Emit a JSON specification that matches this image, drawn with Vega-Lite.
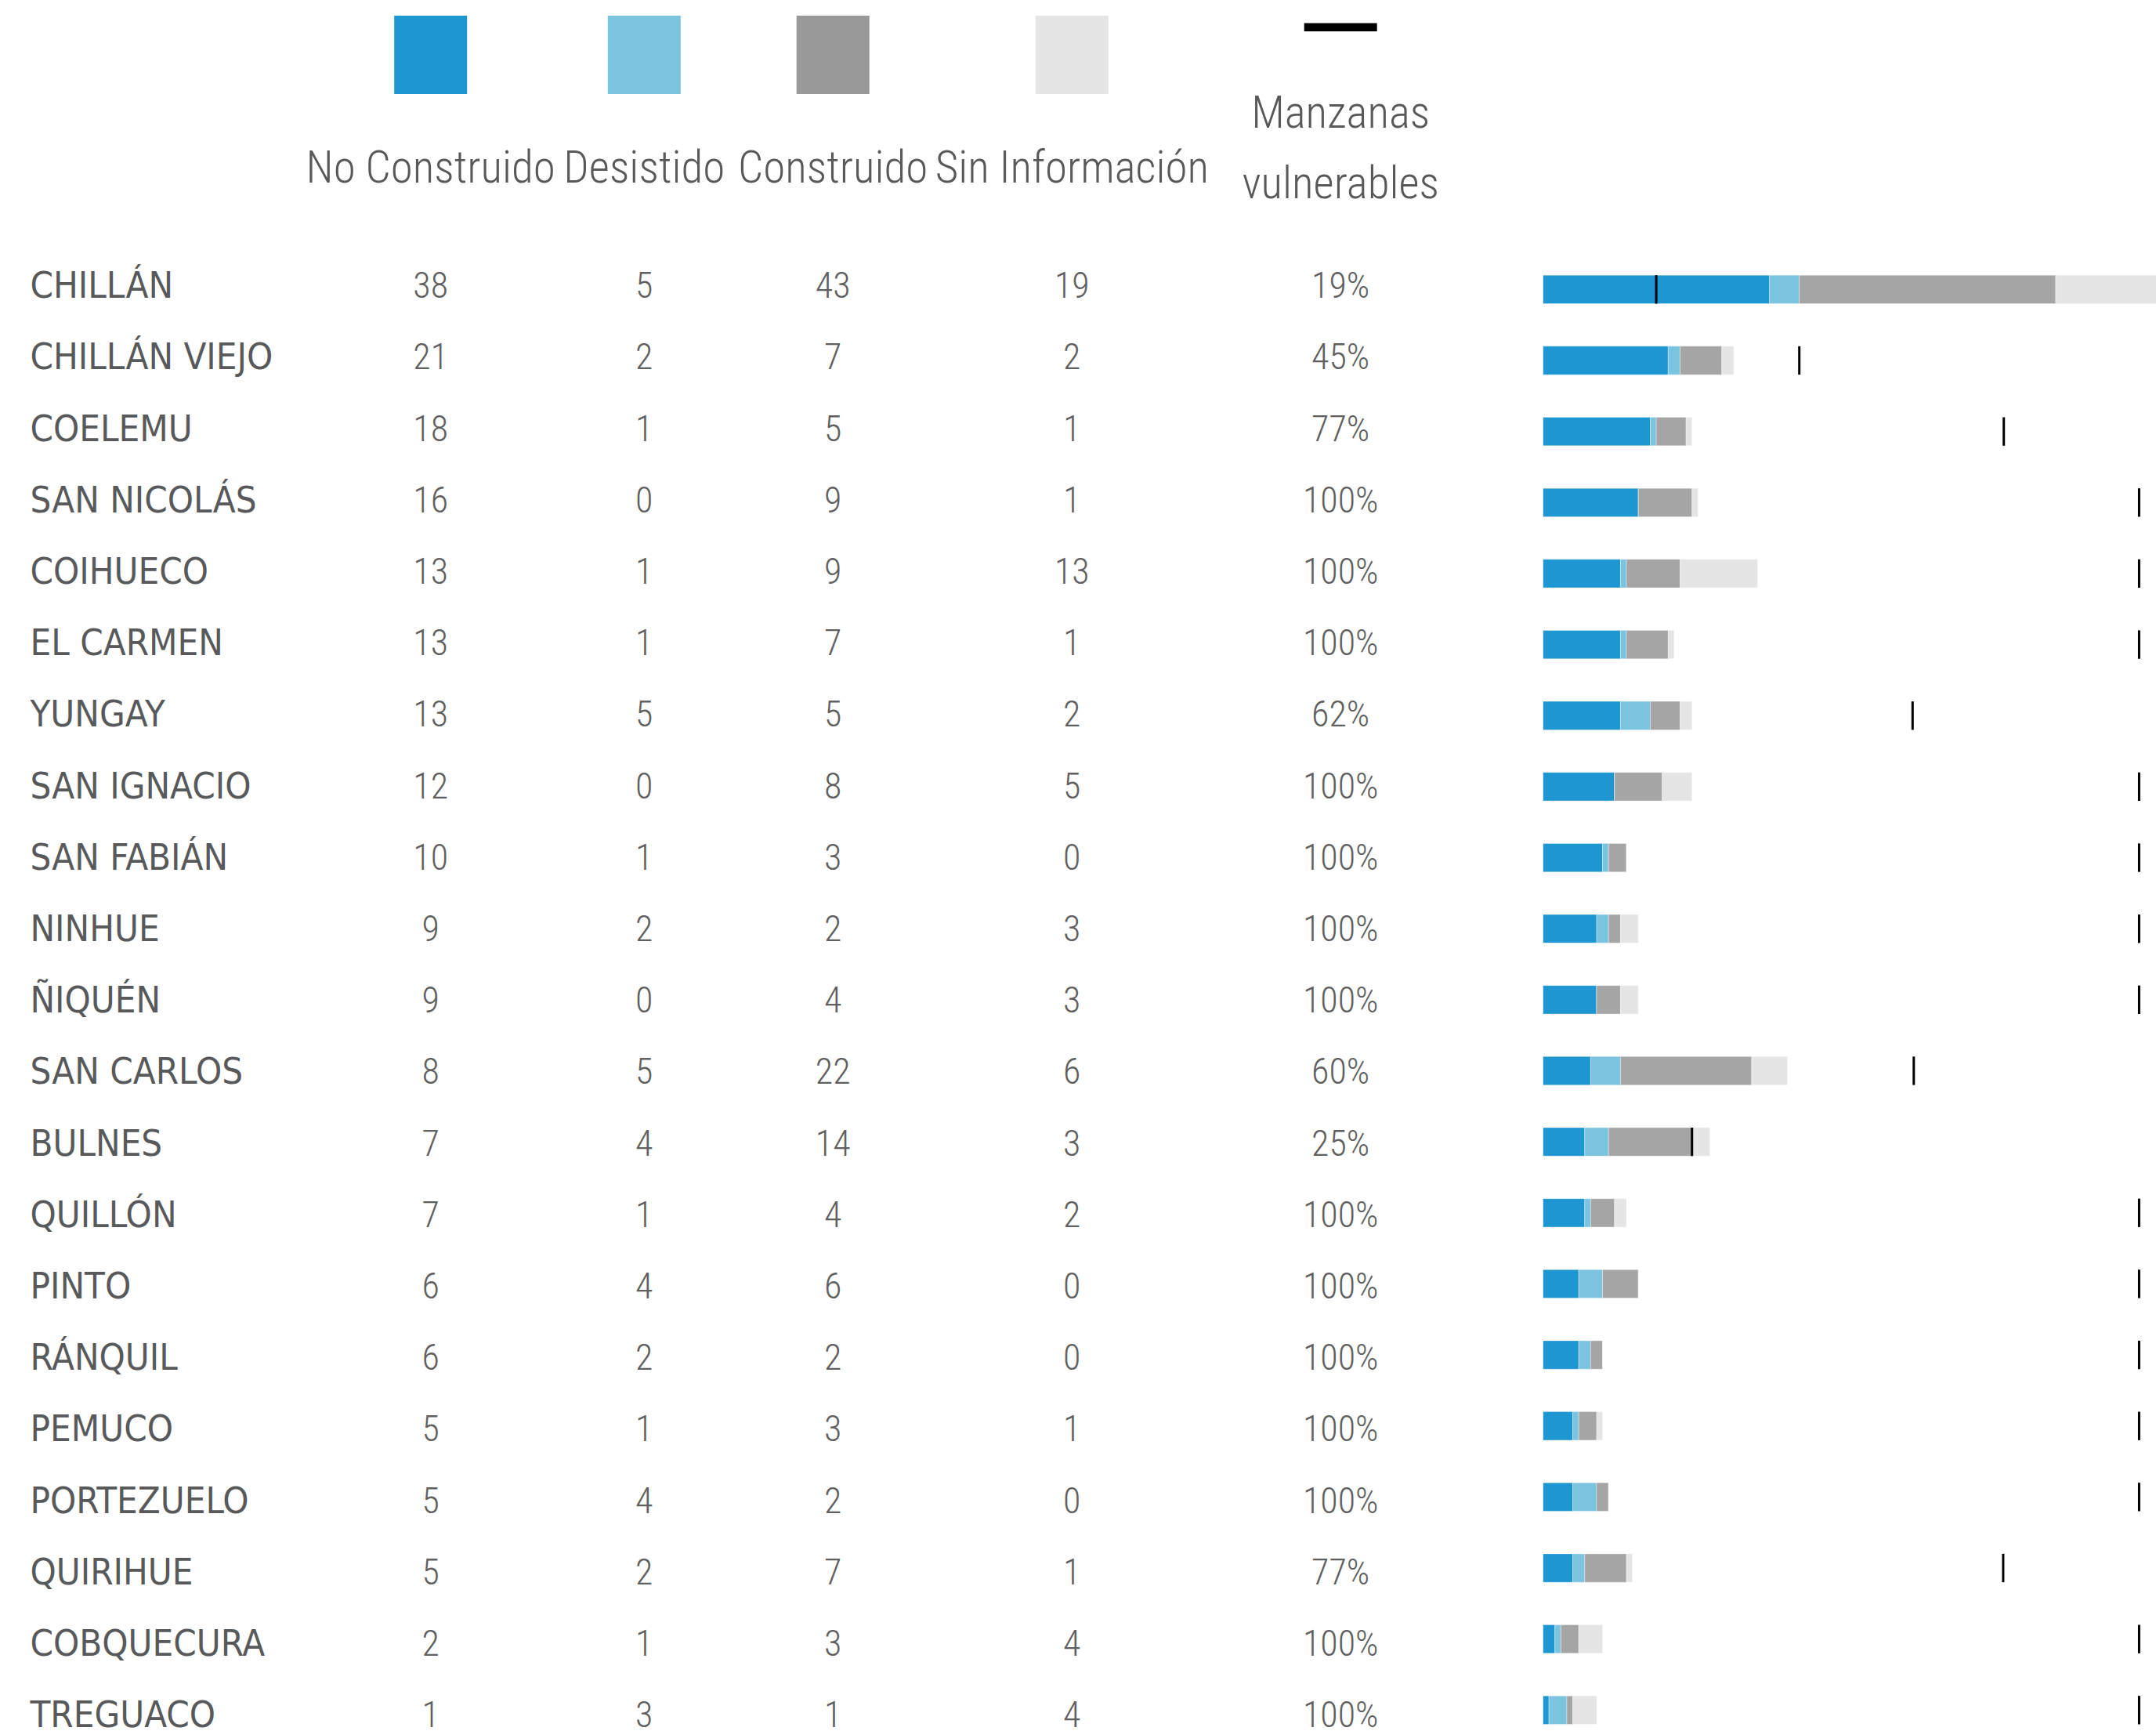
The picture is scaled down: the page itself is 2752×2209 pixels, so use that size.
{
  "$schema": "https://vega.github.io/schema/vega-lite/v6.json",
  "background": "#ffffff",
  "padding": {"left": 38.5, "top": 0, "right": 0, "bottom": 0},
  "columns": 7,
  "spacing": 0,
  "align": "each",
  "bounds": "flush",
  "config": {"view": {"stroke": null}},
  "resolve": {"scale": {"color": "independent"}},
  "datasets": {
    "filas": [
      {"municipio": "CHILLÁN", "noConstruido": 38, "desistido": 5, "construido": 43, "sinInfo": 19, "vulnerable": 0.19, "marca": 0.19},
      {"municipio": "CHILLÁN VIEJO", "noConstruido": 21, "desistido": 2, "construido": 7, "sinInfo": 2, "vulnerable": 0.45, "marca": 0.43},
      {"municipio": "COELEMU", "noConstruido": 18, "desistido": 1, "construido": 5, "sinInfo": 1, "vulnerable": 0.77, "marca": 0.773},
      {"municipio": "SAN NICOLÁS", "noConstruido": 16, "desistido": 0, "construido": 9, "sinInfo": 1, "vulnerable": 1.0, "marca": 1.0},
      {"municipio": "COIHUECO", "noConstruido": 13, "desistido": 1, "construido": 9, "sinInfo": 13, "vulnerable": 1.0, "marca": 1.0},
      {"municipio": "EL CARMEN", "noConstruido": 13, "desistido": 1, "construido": 7, "sinInfo": 1, "vulnerable": 1.0, "marca": 1.0},
      {"municipio": "YUNGAY", "noConstruido": 13, "desistido": 5, "construido": 5, "sinInfo": 2, "vulnerable": 0.62, "marca": 0.62},
      {"municipio": "SAN IGNACIO", "noConstruido": 12, "desistido": 0, "construido": 8, "sinInfo": 5, "vulnerable": 1.0, "marca": 1.0},
      {"municipio": "SAN FABIÁN", "noConstruido": 10, "desistido": 1, "construido": 3, "sinInfo": 0, "vulnerable": 1.0, "marca": 1.0},
      {"municipio": "NINHUE", "noConstruido": 9, "desistido": 2, "construido": 2, "sinInfo": 3, "vulnerable": 1.0, "marca": 1.0},
      {"municipio": "ÑIQUÉN", "noConstruido": 9, "desistido": 0, "construido": 4, "sinInfo": 3, "vulnerable": 1.0, "marca": 1.0},
      {"municipio": "SAN CARLOS", "noConstruido": 8, "desistido": 5, "construido": 22, "sinInfo": 6, "vulnerable": 0.6, "marca": 0.622},
      {"municipio": "BULNES", "noConstruido": 7, "desistido": 4, "construido": 14, "sinInfo": 3, "vulnerable": 0.25, "marca": 0.25},
      {"municipio": "QUILLÓN", "noConstruido": 7, "desistido": 1, "construido": 4, "sinInfo": 2, "vulnerable": 1.0, "marca": 1.0},
      {"municipio": "PINTO", "noConstruido": 6, "desistido": 4, "construido": 6, "sinInfo": 0, "vulnerable": 1.0, "marca": 1.0},
      {"municipio": "RÁNQUIL", "noConstruido": 6, "desistido": 2, "construido": 2, "sinInfo": 0, "vulnerable": 1.0, "marca": 1.0},
      {"municipio": "PEMUCO", "noConstruido": 5, "desistido": 1, "construido": 3, "sinInfo": 1, "vulnerable": 1.0, "marca": 1.0},
      {"municipio": "PORTEZUELO", "noConstruido": 5, "desistido": 4, "construido": 2, "sinInfo": 0, "vulnerable": 1.0, "marca": 1.0},
      {"municipio": "QUIRIHUE", "noConstruido": 5, "desistido": 2, "construido": 7, "sinInfo": 1, "vulnerable": 0.77, "marca": 0.772},
      {"municipio": "COBQUECURA", "noConstruido": 2, "desistido": 1, "construido": 3, "sinInfo": 4, "vulnerable": 1.0, "marca": 1.0},
      {"municipio": "TREGUACO", "noConstruido": 1, "desistido": 3, "construido": 1, "sinInfo": 4, "vulnerable": 1.0, "marca": 1.0}
    ],
    "estados": [
      {"estado": "noConstruido", "titulo": "No Construido", "orden": 1},
      {"estado": "desistido", "titulo": "Desistido", "orden": 2},
      {"estado": "construido", "titulo": "Construido", "orden": 3},
      {"estado": "sinInfo", "titulo": "Sin Información", "orden": 4},
      {"estado": "vulnerable", "titulo": "Manzanas vulnerables", "orden": 5}
    ]
  },
  "concat": [
    {"width": 259.8, "height": 140, "data": {"values": [{}]}, "mark": {"type": "point", "opacity": 0}},
    {"width": 502.4, "height": 140, "data": {"name": "estados"}, "transform": [{"filter": "datum.estado === 'noConstruido'"}],
     "mark": {"type": "point", "shape": "M-0.93,-1H0.93V1H-0.93Z", "size": 10000, "filled": true, "opacity": 1, "strokeWidth": 0},
     "encoding": {"color": {"field": "estado", "type": "nominal", "legend": null, "scale": {"domain": ["noConstruido", "desistido", "construido", "sinInfo", "vulnerable"], "range": ["#1e96d2", "#7ac4df", "#999999", "#e5e5e5", "#000000"]}}}},
    {"width": 41.6, "height": 140, "data": {"name": "estados"}, "transform": [{"filter": "datum.estado === 'desistido'"}],
     "mark": {"type": "point", "shape": "M-0.93,-1H0.93V1H-0.93Z", "size": 10000, "filled": true, "opacity": 1, "strokeWidth": 0},
     "encoding": {"color": {"field": "estado", "type": "nominal", "legend": null, "scale": {"domain": ["noConstruido", "desistido", "construido", "sinInfo", "vulnerable"], "range": ["#1e96d2", "#7ac4df", "#999999", "#e5e5e5", "#000000"]}}}},
    {"width": 439.4, "height": 140, "data": {"name": "estados"}, "transform": [{"filter": "datum.estado === 'construido'"}],
     "mark": {"type": "point", "shape": "M-0.93,-1H0.93V1H-0.93Z", "size": 10000, "filled": true, "opacity": 1, "strokeWidth": 0},
     "encoding": {"color": {"field": "estado", "type": "nominal", "legend": null, "scale": {"domain": ["noConstruido", "desistido", "construido", "sinInfo", "vulnerable"], "range": ["#1e96d2", "#7ac4df", "#999999", "#e5e5e5", "#000000"]}}}},
    {"width": 169.6, "height": 140, "data": {"name": "estados"}, "transform": [{"filter": "datum.estado === 'sinInfo'"}],
     "mark": {"type": "point", "shape": "M-0.93,-1H0.93V1H-0.93Z", "size": 10000, "filled": true, "opacity": 1, "strokeWidth": 0},
     "encoding": {"color": {"field": "estado", "type": "nominal", "legend": null, "scale": {"domain": ["noConstruido", "desistido", "construido", "sinInfo", "vulnerable"], "range": ["#1e96d2", "#7ac4df", "#999999", "#e5e5e5", "#000000"]}}}},
    {"width": 515.4, "height": 140, "data": {"name": "estados"}, "transform": [{"filter": "datum.estado === 'vulnerable'"}],
     "mark": {"type": "point", "shape": "M-0.93,-0.81H0.93V-0.6H-0.93Z", "size": 10000, "filled": true, "opacity": 1, "strokeWidth": 0},
     "encoding": {"color": {"field": "estado", "type": "nominal", "legend": null, "scale": {"domain": ["noConstruido", "desistido", "construido", "sinInfo", "vulnerable"], "range": ["#1e96d2", "#7ac4df", "#999999", "#e5e5e5", "#000000"]}}}},
    {"width": 785.3, "height": 140, "data": {"values": [{}]}, "mark": {"type": "point", "opacity": 0}},

    {"width": 259.8, "height": 183.9, "data": {"values": [{}]}, "mark": {"type": "point", "opacity": 0}},
    {"width": 502.4, "height": 183.9, "data": {"name": "estados"}, "transform": [{"filter": "datum.estado === 'noConstruido'"}],
     "mark": {"type": "text", "baseline": "alphabetic", "dy": 1.4, "font": "Roboto Condensed, Noto Sans Condensed, DejaVu Sans Condensed, sans-serif", "fontWeight": 300, "fontSize": 57, "color": "#58595b"},
     "encoding": {"text": {"field": "titulo", "type": "nominal"}}},
    {"width": 41.6, "height": 183.9, "data": {"name": "estados"}, "transform": [{"filter": "datum.estado === 'desistido'"}],
     "mark": {"type": "text", "baseline": "alphabetic", "dy": 1.4, "font": "Roboto Condensed, Noto Sans Condensed, DejaVu Sans Condensed, sans-serif", "fontWeight": 300, "fontSize": 57, "color": "#58595b"},
     "encoding": {"text": {"field": "titulo", "type": "nominal"}}},
    {"width": 439.4, "height": 183.9, "data": {"name": "estados"}, "transform": [{"filter": "datum.estado === 'construido'"}],
     "mark": {"type": "text", "baseline": "alphabetic", "dy": 1.4, "font": "Roboto Condensed, Noto Sans Condensed, DejaVu Sans Condensed, sans-serif", "fontWeight": 300, "fontSize": 57, "color": "#58595b"},
     "encoding": {"text": {"field": "titulo", "type": "nominal"}}},
    {"width": 169.6, "height": 183.9, "data": {"name": "estados"}, "transform": [{"filter": "datum.estado === 'sinInfo'"}],
     "mark": {"type": "text", "baseline": "alphabetic", "dy": 1.4, "font": "Roboto Condensed, Noto Sans Condensed, DejaVu Sans Condensed, sans-serif", "fontWeight": 300, "fontSize": 57, "color": "#58595b"},
     "encoding": {"text": {"field": "titulo", "type": "nominal"}}},
    {"width": 515.4, "height": 183.9, "data": {"name": "estados"}, "transform": [{"filter": "datum.estado === 'vulnerable'"}],
     "mark": {"type": "text", "baseline": "alphabetic", "dy": -68.6, "lineBreak": " ", "lineHeight": 90, "font": "Roboto Condensed, Noto Sans Condensed, DejaVu Sans Condensed, sans-serif", "fontWeight": 300, "fontSize": 57, "color": "#58595b"},
     "encoding": {"text": {"field": "titulo", "type": "nominal"}}},
    {"width": 785.3, "height": 183.9, "data": {"values": [{}]}, "mark": {"type": "point", "opacity": 0}},

    {"width": 259.8, "height": 1915.2, "data": {"name": "filas"},
     "mark": {"type": "text", "align": "left", "baseline": "alphabetic", "dy": 10.5, "font": "DejaVu Sans Condensed, Roboto Condensed, sans-serif", "fontSize": 47, "color": "#58595b"},
     "encoding": {"x": {"value": 0}, "y": {"field": "municipio", "type": "nominal", "sort": null, "axis": null}, "text": {"field": "municipio", "type": "nominal"}}},
    {"width": 502.4, "height": 1915.2, "data": {"name": "filas"},
     "mark": {"type": "text", "baseline": "alphabetic", "dy": 10.5, "font": "Roboto Condensed, Noto Sans Condensed, DejaVu Sans Condensed, sans-serif", "fontWeight": 300, "fontSize": 46, "color": "#606060"},
     "encoding": {"y": {"field": "municipio", "type": "nominal", "sort": null, "axis": null}, "text": {"field": "noConstruido", "type": "quantitative"}}},
    {"width": 41.6, "height": 1915.2, "data": {"name": "filas"},
     "mark": {"type": "text", "baseline": "alphabetic", "dy": 10.5, "font": "Roboto Condensed, Noto Sans Condensed, DejaVu Sans Condensed, sans-serif", "fontWeight": 300, "fontSize": 46, "color": "#606060"},
     "encoding": {"y": {"field": "municipio", "type": "nominal", "sort": null, "axis": null}, "text": {"field": "desistido", "type": "quantitative"}}},
    {"width": 439.4, "height": 1915.2, "data": {"name": "filas"},
     "mark": {"type": "text", "baseline": "alphabetic", "dy": 10.5, "font": "Roboto Condensed, Noto Sans Condensed, DejaVu Sans Condensed, sans-serif", "fontWeight": 300, "fontSize": 46, "color": "#606060"},
     "encoding": {"y": {"field": "municipio", "type": "nominal", "sort": null, "axis": null}, "text": {"field": "construido", "type": "quantitative"}}},
    {"width": 169.6, "height": 1915.2, "data": {"name": "filas"},
     "mark": {"type": "text", "baseline": "alphabetic", "dy": 10.5, "font": "Roboto Condensed, Noto Sans Condensed, DejaVu Sans Condensed, sans-serif", "fontWeight": 300, "fontSize": 46, "color": "#606060"},
     "encoding": {"y": {"field": "municipio", "type": "nominal", "sort": null, "axis": null}, "text": {"field": "sinInfo", "type": "quantitative"}}},
    {"width": 515.4, "height": 1915.2, "data": {"name": "filas"},
     "mark": {"type": "text", "baseline": "alphabetic", "dy": 10.5, "font": "Roboto Condensed, Noto Sans Condensed, DejaVu Sans Condensed, sans-serif", "fontWeight": 300, "fontSize": 46, "color": "#606060"},
     "encoding": {"y": {"field": "municipio", "type": "nominal", "sort": null, "axis": null}, "text": {"field": "vulnerable", "type": "quantitative", "format": ".0%"}}},
    {"width": 785.3, "height": 1903.65, "data": {"name": "filas"},
     "resolve": {"scale": {"x": "independent"}},
     "layer": [
       {"transform": [
          {"fold": ["noConstruido", "desistido", "construido", "sinInfo"], "as": ["estado", "cantidad"]},
          {"lookup": "estado", "from": {"data": {"name": "estados"}, "key": "estado", "fields": ["orden"]}}
        ],
        "mark": {"type": "bar", "size": 36.3, "clip": true, "stroke": "#ffffff", "strokeWidth": 1, "strokeOpacity": 0.35},
        "encoding": {
          "y": {"field": "municipio", "type": "nominal", "axis": null, "scale": {"type": "band", "paddingInner": 0, "paddingOuter": 0, "domain": ["CHILLÁN", "CHILLÁN VIEJO", "COELEMU", "SAN NICOLÁS", "COIHUECO", "EL CARMEN", "YUNGAY", "SAN IGNACIO", "SAN FABIÁN", "NINHUE", "ÑIQUÉN", "SAN CARLOS", "BULNES", "QUILLÓN", "PINTO", "RÁNQUIL", "PEMUCO", "PORTEZUELO", "QUIRIHUE", "COBQUECURA", "TREGUACO"]}},
          "x": {"field": "cantidad", "type": "quantitative", "stack": "zero", "axis": null, "scale": {"domain": [0, 103.2], "nice": false, "zero": true}},
          "color": {"field": "estado", "type": "nominal", "legend": null, "scale": {"domain": ["noConstruido", "desistido", "construido", "sinInfo"], "range": ["#1e96d2", "#7bc4e0", "#a5a5a5", "#e5e5e5"]}},
          "order": {"field": "orden", "type": "quantitative"}
        }},
       {"mark": {"type": "tick", "color": "#000000", "thickness": 3, "size": 36.3, "opacity": 1},
        "encoding": {
          "y": {"field": "municipio", "type": "nominal", "axis": null, "scale": {"type": "band", "paddingInner": 0, "paddingOuter": 0, "domain": ["CHILLÁN", "CHILLÁN VIEJO", "COELEMU", "SAN NICOLÁS", "COIHUECO", "EL CARMEN", "YUNGAY", "SAN IGNACIO", "SAN FABIÁN", "NINHUE", "ÑIQUÉN", "SAN CARLOS", "BULNES", "QUILLÓN", "PINTO", "RÁNQUIL", "PEMUCO", "PORTEZUELO", "QUIRIHUE", "COBQUECURA", "TREGUACO"]}},
          "x": {"field": "marca", "type": "quantitative", "axis": null, "scale": {"domain": [0, 1.032], "nice": false, "zero": true}}
        }}
     ]}
  ]
}
